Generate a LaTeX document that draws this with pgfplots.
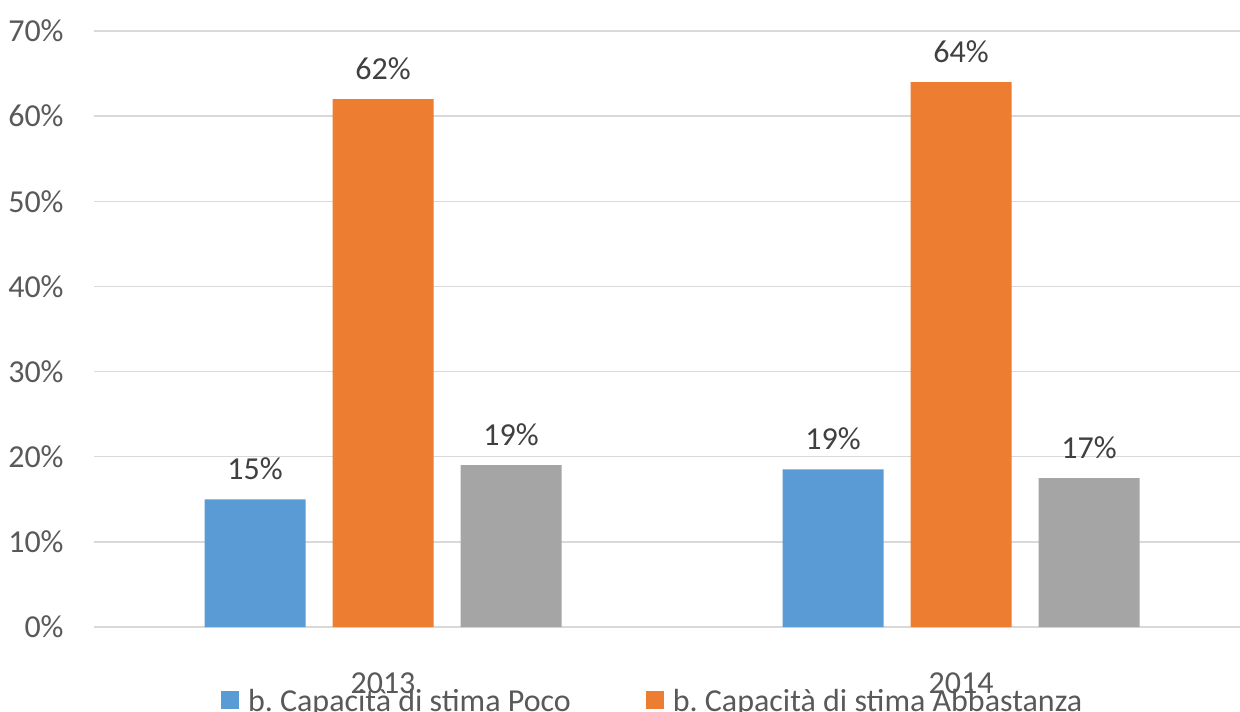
\documentclass[border=0pt]{standalone}
\usepackage{fontspec}
\setmainfont{Carlito}
\usepackage{pgfplots}
\pgfplotsset{compat=1.18}
\definecolor{cBlue}{HTML}{5B9BD5}
\definecolor{cOrange}{HTML}{ED7D31}
\definecolor{cGray}{HTML}{A5A5A5}
\definecolor{cGrid}{HTML}{D9D9D9}
\definecolor{cText}{HTML}{595959}
\definecolor{cLabel}{HTML}{404040}
\frenchspacing
\begin{document}
\begin{tikzpicture}
\useasboundingbox (0,0) rectangle (620pt,355.5pt);
\clip (0,0) rectangle (620pt,355.5pt);
\begin{axis}[
  at={(47pt,42pt)}, anchor=south west,
  scale only axis, width=578pt, height=298pt,
  xmin=0.5, xmax=2.5, ymin=0, ymax=70,
  ybar, bar width=50.5pt,
  axis line style={draw=none},
  axis x line*=bottom,
  xtick={1,2}, xticklabels={2013,2014},
  ytick={0,10,...,70},
  yticklabel={\pgfmathprintnumber{\tick}\%},
  /pgf/number format/assume math mode=true,
  major tick length=0pt,
  ymajorgrids, grid style={cGrid, line width=0.75pt},
  tick label style={font=\fontsize{16}{19.2}\selectfont, text=cText},
  yticklabel style={anchor=east, inner sep=0pt, xshift=-15pt},
  xticklabel style={anchor=north, inner sep=0pt, yshift=-22.5pt},
  point meta=explicit symbolic,
  nodes near coords,
  every node near coord/.append style={font=\fontsize{16}{19.2}\selectfont, text=cLabel, anchor=south, inner sep=0pt, yshift=9.5pt},
  legend columns=-1,
  legend style={at={(0.045,-0.104)}, anchor=north west, draw=none, fill=none,
    inner sep=0pt, outer sep=0pt, column sep=0pt,
    font=\fontsize{16}{19.2}\selectfont, text=cText,
    nodes={inner sep=0pt}},
  legend image code/.code={\path (-37.5pt,0pt) (13.5pt,0pt);\fill[#1] (0pt,-3.5pt) rectangle (9pt,5.5pt);},
  clip=false,
]
\draw[cGrid, line width=0.75pt] (axis cs:0.5,0) -- (axis cs:2.5,0);
\addplot[fill=cBlue, draw=none, bar shift=-64pt] coordinates {(1,15) [15\%] (2,18.5) [19\%]};
\addlegendentry{b. Capacità di stima Poco}
\addplot[fill=cOrange, draw=none, bar shift=0pt] coordinates {(1,62) [62\%] (2,64) [64\%]};
\addlegendentry{b. Capacità di stima Abbastanza}
\addplot[fill=cGray, draw=none, bar shift=64pt] coordinates {(1,19) [19\%] (2,17.5) [17\%]};
\end{axis}
\end{tikzpicture}
\end{document}
